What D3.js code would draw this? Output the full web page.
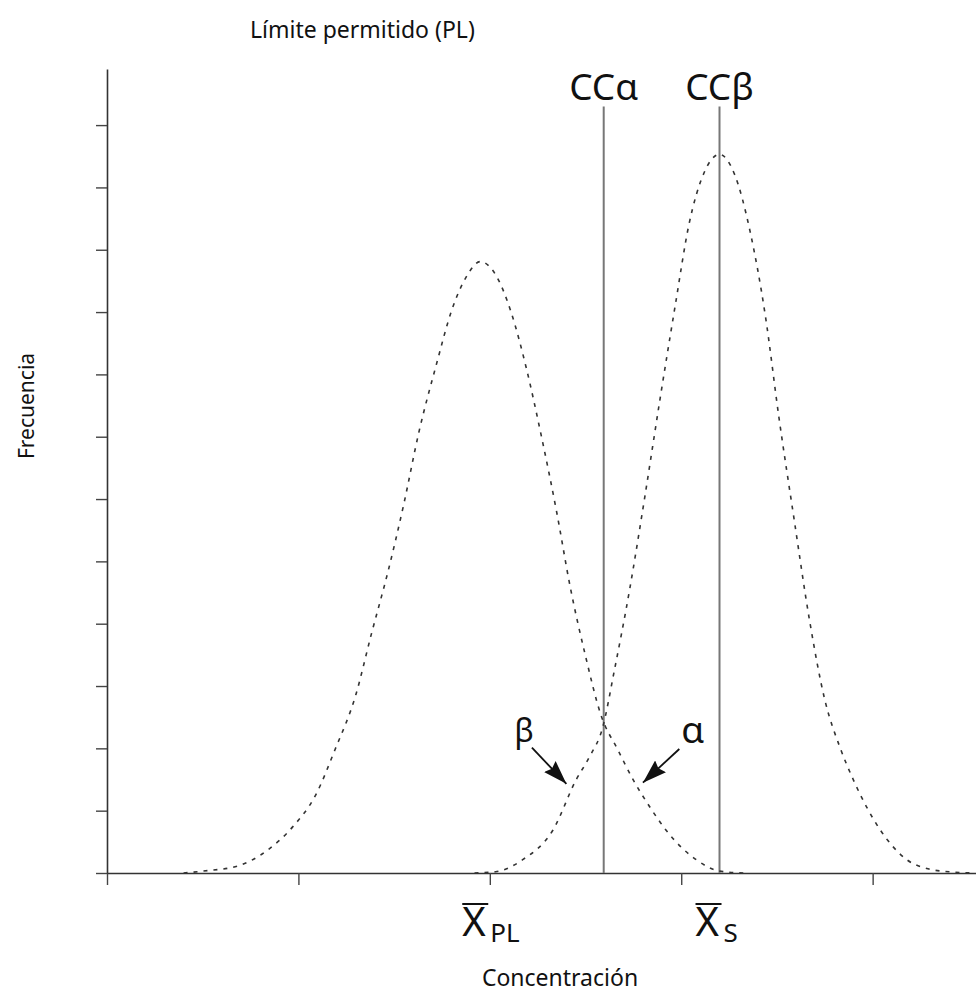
<!DOCTYPE html>
<html>

<head>
    <meta charset="utf-8">
    <script src="https://d3js.org/d3.v7.min.js"></script>
    <style>
        body { margin: 0; background: #fff; }
        text { font-family: "Noto Sans", "Open Sans", sans-serif; fill: #111; }
    </style>
</head>

<body>
    <script>
        // values (x: concentration, y: frequency)
        let xTicks = [0, 1, 2, 3, 4];
        let yTicks = [0, 1, 2, 3, 4, 5, 6, 7, 8, 9, 10, 11, 12];

        // distribution around the permitted limit (PL)
        let curvePL = [
            [0.40, 0], [0.50, 0.03], [0.68, 0.11], [0.84, 0.37], [0.97, 0.74],
            [1.09, 1.25], [1.19, 1.97], [1.30, 2.86], [1.38, 3.82], [1.47, 4.86],
            [1.55, 5.91], [1.63, 7.08], [1.72, 8.15], [1.80, 9.02], [1.88, 9.58],
            [1.95, 9.81], [2.03, 9.60], [2.11, 9.01], [2.19, 8.11], [2.27, 7.00],
            [2.35, 5.78], [2.42, 4.59], [2.50, 3.48], [2.58, 2.54], [2.67, 1.97],
            [2.75, 1.49], [2.84, 1.04], [2.92, 0.69], [3.08, 0.21], [3.20, 0.03],
            [3.33, 0]
        ];

        // distribution of the sample (S)
        let curveS = [
            [1.92, 0], [2.03, 0.02], [2.17, 0.21], [2.33, 0.69], [2.45, 1.49],
            [2.52, 1.86], [2.59, 2.34], [2.65, 3.24], [2.73, 4.54], [2.81, 6.04],
            [2.89, 7.62], [2.97, 9.13], [3.04, 10.40], [3.12, 11.24], [3.20, 11.53],
            [3.28, 11.20], [3.36, 10.29], [3.44, 8.93], [3.51, 7.32], [3.59, 5.67],
            [3.67, 4.06], [3.75, 2.78], [3.83, 2.01], [3.90, 1.49], [4.04, 0.69],
            [4.18, 0.21], [4.30, 0.06], [4.40, 0.02], [4.53, 0]
        ];

        let meanNames = ["PL", "S"];
        let meanValues = [1.95, 3.20];

        let limitNames = ["CCα", "CCβ"];
        let limitValues = [2.595, 3.20];
        let limitTop = 12.3;

        let arrowNames = ["β", "α"];
        let arrowFrom = [[2.22, 2.01], [2.99, 1.99]];
        let arrowTo = [[2.40, 1.43], [2.80, 1.45]];

        let width = 976,
            height = 1000;

        let svg = d3.select("body").append("svg")
            .attr("width", width)
            .attr("height", height);

        let x = d3.scaleLinear().domain([0, 4.54]).range([107, 976]);
        let y = d3.scaleLinear().domain([0, 12.9]).range([873, 69]);

        svg.append("defs").append("marker")
            .attr("id", "head")
            .attr("markerUnits", "userSpaceOnUse")
            .attr("viewBox", "0 0 24 16")
            .attr("refX", 24)
            .attr("refY", 8)
            .attr("markerWidth", 24)
            .attr("markerHeight", 16)
            .attr("orient", "auto")
            .append("path")
            .attr("d", "M0,0L24,8L0,16L3,8Z")
            .attr("fill", "#111");

        // axes
        svg.append("g")
            .attr("transform", "translate(0," + y(0) + ")")
            .call(d3.axisBottom(x).tickValues(xTicks).tickSize(12).tickSizeOuter(0).tickFormat(""));

        svg.append("g")
            .attr("transform", "translate(" + x(0) + ",0)")
            .call(d3.axisLeft(y).tickValues(yTicks).tickSize(11).tickSizeOuter(0).tickFormat(""));

        svg.selectAll(".domain").attr("stroke", "#333").attr("stroke-width", 1.6);
        svg.selectAll(".tick line").attr("stroke", "#444").attr("stroke-width", 1.4);

        // CCalpha / CCbeta lines
        svg.append("g")
            .selectAll("line")
            .data(limitValues)
            .join("line")
                .attr("x1", d => x(d))
                .attr("x2", d => x(d))
                .attr("y1", y(0))
                .attr("y2", y(limitTop))
                .attr("stroke", "#777")
                .attr("stroke-width", 2);

        svg.append("g")
            .selectAll("text")
            .data(limitNames)
            .join("text")
                .attr("x", (d, i) => x(limitValues[i]))
                .attr("y", 100)
                .attr("text-anchor", "middle")
                .attr("font-size", 37)
                .text(d => d);

        // the two distributions
        let line = d3.line()
            .x(d => x(d[0]))
            .y(d => y(d[1]))
            .curve(d3.curveMonotoneX);

        svg.append("g")
            .selectAll("path")
            .data([curvePL, curveS])
            .join("path")
                .attr("d", line)
                .attr("fill", "none")
                .attr("stroke", "#333")
                .attr("stroke-width", 1.6)
                .attr("stroke-dasharray", "4,6");

        // alpha / beta arrows
        svg.append("g")
            .selectAll("line")
            .data(arrowNames)
            .join("line")
                .attr("x1", (d, i) => x(arrowFrom[i][0]))
                .attr("y1", (d, i) => y(arrowFrom[i][1]))
                .attr("x2", (d, i) => x(arrowTo[i][0]))
                .attr("y2", (d, i) => y(arrowTo[i][1]))
                .attr("stroke", "#111")
                .attr("stroke-width", 1.8)
                .attr("marker-end", "url(#head)");

        svg.append("g")
            .selectAll("text")
            .data(arrowNames)
            .join("text")
                .attr("x", (d, i) => x(arrowFrom[i][0]) + (i == 0 ? 2 : 2))
                .attr("y", (d, i) => y(arrowFrom[i][1]) - 6)
                .attr("text-anchor", (d, i) => i == 0 ? "end" : "start")
                .attr("font-size", (d, i) => i == 0 ? 32 : 37)
                .text(d => d);

        // mean labels under the x axis
        let means = svg.append("g")
            .selectAll("g")
            .data(meanNames)
            .join("g")
                .attr("transform", (d, i) => "translate(" + (x(meanValues[i]) + (i == 0 ? -18 : -24)) + ",936)");

        means.append("text")
            .attr("font-size", 40)
            .text("X");
        means.append("line")
            .attr("x1", 0).attr("x2", 26)
            .attr("y1", -32).attr("y2", -32)
            .attr("stroke", "#111")
            .attr("stroke-width", 2);
        means.append("text")
            .attr("x", 28)
            .attr("y", 6)
            .attr("font-size", 26)
            .text(d => d);

        // titles
        svg.append("text")
            .attr("x", 250)
            .attr("y", 38)
            .attr("font-size", 23)
            .text("Límite permitido (PL)");

        svg.append("text")
            .attr("x", 560)
            .attr("y", 986)
            .attr("text-anchor", "middle")
            .attr("font-size", 23)
            .text("Concentración");

        svg.append("text")
            .attr("transform", "translate(34,406) rotate(-90)")
            .attr("text-anchor", "middle")
            .attr("font-size", 21)
            .text("Frecuencia");
    </script>
</body>

</html>
